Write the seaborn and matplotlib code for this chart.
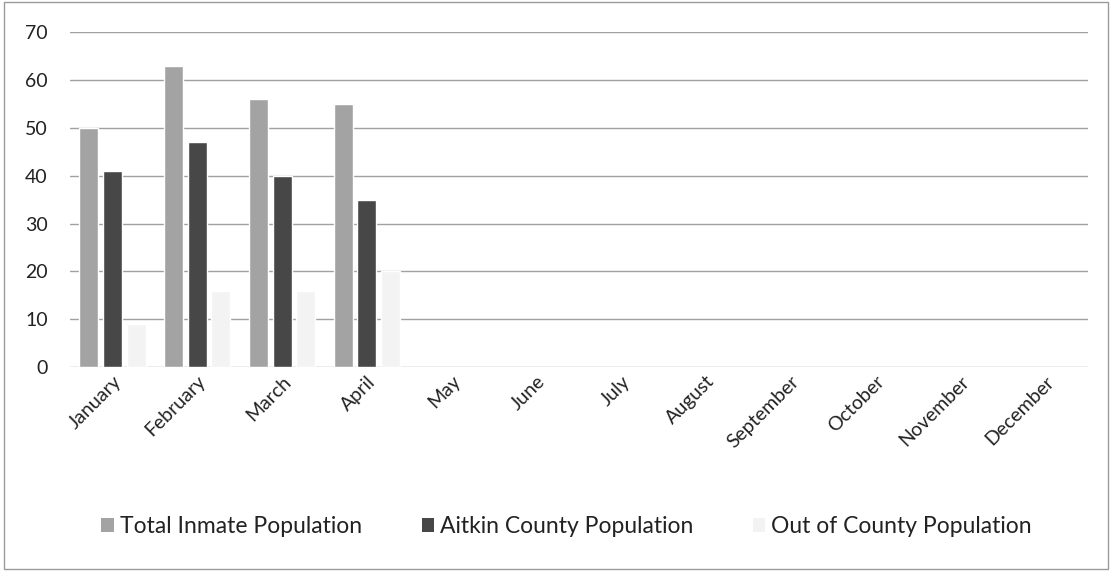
import matplotlib
matplotlib.use("Agg")
import matplotlib.pyplot as plt
import seaborn as sns
import pandas as pd
from matplotlib.patches import Rectangle, Patch

months = ["January", "February", "March", "April", "May", "June", "July",
          "August", "September", "October", "November", "December"]
reported_months = ["January", "February", "March", "April"]
total_pop = [50, 63, 56, 55]
aitkin_pop = [41, 47, 40, 35]
out_of_county_pop = [9, 16, 16, 20]
series_names = ["Total Inmate Population", "Aitkin County Population",
                "Out of County Population"]
series_colors = ["#a3a3a3", "#474747", "#f3f3f3"]
y_ticks = [0, 10, 20, 30, 40, 50, 60, 70]

rows = []
for name, vals in zip(series_names, [total_pop, aitkin_pop, out_of_county_pop]):
    for m, v in zip(reported_months, vals):
        rows.append({"month": m, "series": name, "value": v})
df = pd.DataFrame(rows)

sns.set_theme(style="white")
plt.rcParams["font.family"] = ["Lato", "DejaVu Sans"]

fig = plt.figure(figsize=(11.11, 5.72), dpi=100)
ax = fig.add_axes([0.063, 0.358, 0.916, 0.586])

sns.barplot(data=df, x="month", y="value", hue="series", order=months,
            hue_order=series_names, palette=series_colors, width=0.84,
            gap=0.2, ax=ax, legend=False, saturation=1)

ax.set_ylim(0, 70)
ax.set_xlim(-0.5, 11.5)
ax.set_yticks(y_ticks)
ax.yaxis.grid(True, color="#a0a0a0", linewidth=1.0)
ax.set_axisbelow(True)
for s in ax.spines.values():
    s.set_visible(False)
ax.set_xlabel("")
ax.set_ylabel("")
ax.tick_params(axis="y", labelsize=14, colors="#222222", pad=16, length=0)
ax.tick_params(axis="x", labelsize=14, colors="#222222", length=0, pad=4)
plt.setp(ax.get_xticklabels(), rotation=45, ha="right", rotation_mode="anchor")

handles = [Patch(facecolor=c, edgecolor="none") for c in series_colors]
fig.legend(handles, series_names, loc="center", bbox_to_anchor=(0.51, 0.08),
           ncol=3, frameon=False, fontsize=16.5, handlelength=0.55,
           handleheight=0.55, handletextpad=0.25, columnspacing=2.6,
           labelcolor="#222222")

fig.patches.append(Rectangle((0.004, 0.006), 0.993, 0.99, transform=fig.transFigure,
                             fill=False, edgecolor="#9a9a9a", linewidth=1.0))

fig.savefig("out.png", dpi=100)
